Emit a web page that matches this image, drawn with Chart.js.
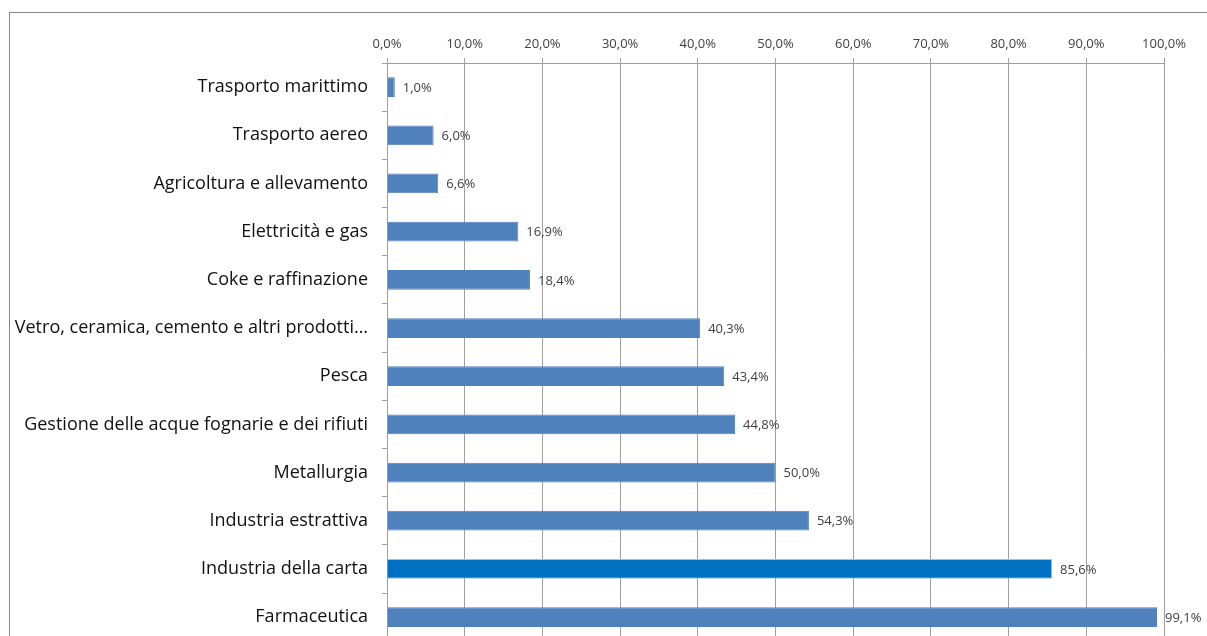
<!DOCTYPE html>
<html lang="it">
<head>
  <meta charset="UTF-8" />
  <title>Settori</title>
  <script src="https://cdn.jsdelivr.net/npm/chart.js"></script>
  <style>
    html, body {
      margin: 0;
      padding: 0;
      background: #ffffff;
      overflow: hidden;
    }
    #wrap {
      position: relative;
      width: 1207px;
      height: 666px;
    }
  </style>
</head>
<body>
  <div id="wrap">
    <canvas id="barChart"></canvas>
  </div>

  <script>
    const categories = [
      'Trasporto marittimo',
      'Trasporto aereo',
      'Agricoltura e allevamento',
      'Elettricità e gas',
      'Coke e raffinazione',
      'Vetro, ceramica, cemento e altri prodotti…',
      'Pesca',
      'Gestione delle acque fognarie e dei rifiuti',
      'Metallurgia',
      'Industria estrattiva',
      'Industria della carta',
      'Farmaceutica'
    ];
    const shares = [1.0, 6.0, 6.6, 16.9, 18.4, 40.3, 43.4, 44.8, 50.0, 54.3, 85.6, 99.1];
    const highlighted = 'Industria della carta';
    const tickValues = [0, 10, 20, 30, 40, 50, 60, 70, 80, 90, 100];

    const fmt = v => v.toFixed(1).replace('.', ',') + '%';
    const FONT = '"Open Sans", "Noto Sans", sans-serif';

    // outer frame of the original sheet
    const framePlugin = {
      id: 'frame',
      beforeDraw(chart) {
        const ctx = chart.ctx;
        ctx.save();
        ctx.strokeStyle = '#868686';
        ctx.lineWidth = 1;
        ctx.strokeRect(9.5, 12.5, chart.width + 20, chart.height + 20);
        ctx.restore();
      }
    };

    // value labels to the right of each bar
    const valueLabels = {
      id: 'valueLabels',
      afterDatasetsDraw(chart) {
        const ctx = chart.ctx;
        const ds = chart.data.datasets[0];
        ctx.save();
        ctx.font = '13px ' + FONT;
        ctx.fillStyle = '#404040';
        ctx.textAlign = 'left';
        ctx.textBaseline = 'middle';
        chart.getDatasetMeta(0).data.forEach((bar, i) => {
          ctx.fillText(fmt(ds.data[i]), bar.x + 8, bar.y + 1);
        });
        ctx.restore();
      }
    };

    const ctx = document.getElementById('barChart').getContext('2d');
    new Chart(ctx, {
      type: 'bar',
      data: {
        labels: categories,
        datasets: [{
          data: shares,
          backgroundColor: categories.map(c => c === highlighted ? '#0070C0' : '#4F81BD'),
          borderColor: categories.map(c => c === highlighted ? '#9DC3E6' : '#4F81BD'),
          borderWidth: 1,
          barPercentage: 0.41,
          categoryPercentage: 1
        }]
      },
      options: {
        indexAxis: 'y',
        responsive: true,
        maintainAspectRatio: false,
        animation: false,
        layout: { padding: { left: 0, top: 0, right: 43, bottom: 10 } },
        plugins: {
          legend: { display: false },
          tooltip: { enabled: false }
        },
        scales: {
          x: {
            position: 'top',
            min: 0,
            max: 100,
            afterBuildTicks(scale) {
              scale.ticks = tickValues.map(v => ({ value: v }));
            },
            afterFit(scale) { scale.height = 63; },
            grid: { color: '#a0a0a0', tickLength: 5, lineWidth: 1 },
            border: { color: '#a0a0a0' },
            ticks: {
              padding: 6,
              color: '#404040',
              font: { family: FONT, size: 13 },
              maxRotation: 0,
              callback: v => fmt(v)
            }
          },
          y: {
            afterFit(scale) { scale.width = 387; },
            grid: { drawOnChartArea: false, color: '#a0a0a0', tickLength: 5, offset: true },
            border: { color: '#a0a0a0' },
            ticks: {
              padding: 14,
              color: '#111111',
              font: { family: FONT, size: 18 },
              autoSkip: false
            }
          }
        }
      },
      plugins: [framePlugin, valueLabels]
    });
  </script>
</body>
</html>
